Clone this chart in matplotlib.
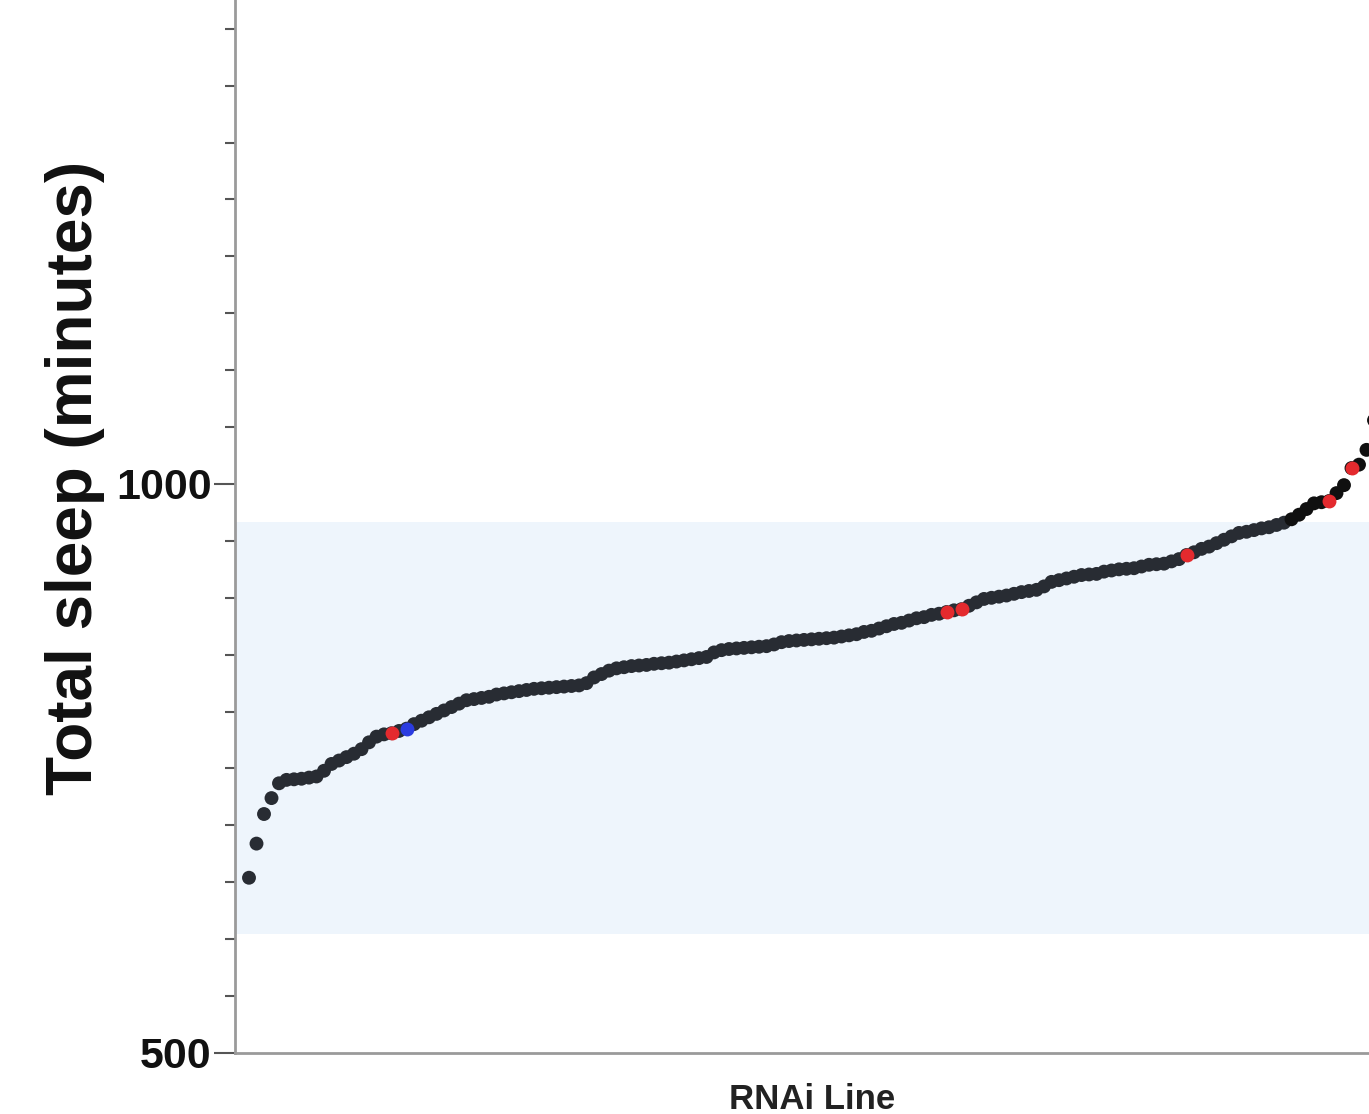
import matplotlib
matplotlib.use("Agg")
import matplotlib.pyplot as plt
from matplotlib.ticker import FixedLocator, MultipleLocator, NullLocator
import numpy as np

# Total sleep per RNAi line, sorted from lowest to highest (minutes)
sleep_minutes = [
    654, 684, 710, 724, 737, 740, 740.5, 741, 742, 743,
    748, 754, 757, 760, 763, 767, 773, 778, 780, 781,
    783, 785, 789, 792, 795, 798, 801, 804, 807, 810,
    811, 812, 813, 815, 816, 817, 818, 819, 820, 820.5,
    821, 821.5, 822, 822.5, 823, 825, 830, 833, 836, 838,
    839, 840, 840.5, 841, 842, 842.5, 843, 844, 845, 846,
    847, 848, 852, 854, 855, 855.5, 856, 856.5, 857, 857.5,
    859, 861, 862, 862.5, 863, 863.5, 864, 864.5, 865, 866,
    867, 868, 870, 871, 873, 875, 877, 878, 880, 882,
    883, 885, 886, 887.5, 889, 890, 893, 896, 899, 900,
    901, 902, 903.5, 905, 906, 907, 910, 914, 915.5, 917,
    918.5, 920, 920.5, 921, 923, 924, 925, 925.5, 926, 927.5,
    929, 929.5, 930, 932, 934, 937.6, 940, 943, 945, 948,
    951, 954, 957, 958, 959.5, 961, 962, 964, 966, 969,
    973, 978, 983, 984, 985, 992, 999, 1014, 1017, 1030,
    1056, 1080, 1110,
]

# Ranks of the lines singled out in red and blue
red_lines = [19, 93, 95, 125, 144, 147]
blue_lines = [21]

# Normal sleep range shown as a shaded band
normal_range = (605, 967)

y_major_ticks = [500, 1000]
y_minor_step = 50

plt.rcParams["font.family"] = ["Liberation Sans", "DejaVu Sans"]

fig = plt.figure(figsize=(13.69, 11.14), dpi=100)
ax = fig.add_axes([235 / 1369, 61 / 1114, 1154 / 1369, 1138 / 1114])

vals = np.asarray(sleep_minutes, dtype=float)
rank = np.arange(len(vals))

ax.set_ylim(500, 1500)
ax.set_xlim(-1.867, 152)

ax.axhspan(*normal_range, color="#eef5fc", lw=0, zorder=0)

dot_size = 100
base_colors = np.where(vals > normal_range[1], "#101010", "#282c33")
ax.scatter(rank, vals, s=dot_size, c=base_colors, linewidths=0, zorder=2)
ax.scatter(rank[red_lines], vals[red_lines], s=dot_size, c="#e42a2e",
           linewidths=0, zorder=3)
ax.scatter(rank[blue_lines], vals[blue_lines], s=dot_size, c="#2b3ce0",
           linewidths=0, zorder=3)

for side in ("top", "right"):
    ax.spines[side].set_visible(False)
for side in ("left", "bottom"):
    ax.spines[side].set_color("#9a9a9a")
    ax.spines[side].set_linewidth(2)

ax.xaxis.set_major_locator(NullLocator())
ax.yaxis.set_major_locator(FixedLocator(y_major_ticks))
ax.yaxis.set_minor_locator(MultipleLocator(y_minor_step))
ax.tick_params(axis="y", which="major", length=15, width=1.5,
               color="#555555", pad=2, labelsize=31)
ax.tick_params(axis="y", which="minor", length=7, width=1.5,
               color="#555555")
for lbl in ax.get_yticklabels():
    lbl.set_fontweight("bold")
    lbl.set_color("#111111")

ax.set_ylabel("Total sleep (minutes)", fontsize=46, fontweight="bold",
              color="#111111")
ax.yaxis.set_label_coords(-0.113, 0.505)

ax.set_xlabel("RNAi Line", fontsize=25, fontweight="bold", color="#222222")
ax.xaxis.set_label_coords(0.5, -0.026)

fig.savefig("out.png", dpi=100)
